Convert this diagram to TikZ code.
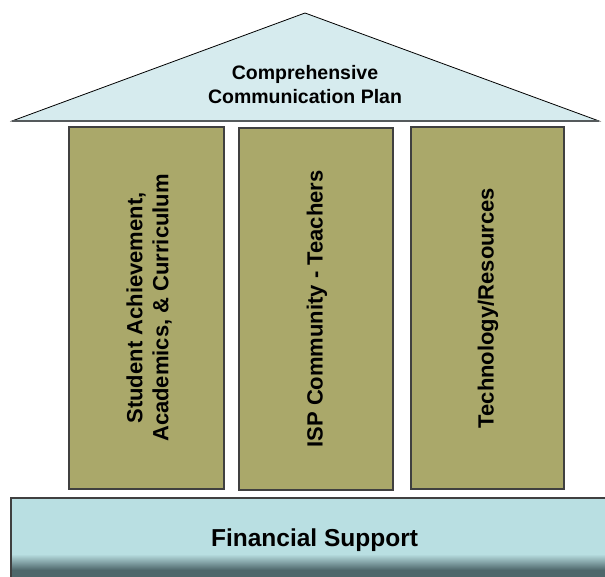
\documentclass[tikz,border=0pt]{standalone}
\usepackage{fontspec}
\setmainfont{Liberation Sans}
\definecolor{roofblue}{HTML}{D6EBEE}
\definecolor{baseblue}{HTML}{B9DFE2}
\definecolor{olivefill}{HTML}{AAA86A}
\definecolor{edgegray}{HTML}{404040}
\definecolor{roofline}{HTML}{555A5C}
\definecolor{shadowteal}{HTML}{4E676B}
\tikzset{
  pillarbox/.style={fill=olivefill, draw=edgegray, line width=1.2pt},
  pillartext/.style={rotate=90, align=center, font=\bfseries\fontsize{22}{26}\selectfont, inner sep=0pt},
  rooftext/.style={align=center, font=\bfseries\fontsize{19.5}{24}\selectfont, inner sep=0pt},
  basetext/.style={font=\bfseries\fontsize{24.5}{28}\selectfont, inner sep=0pt}
}
\begin{document}
\begin{tikzpicture}[x=1pt,y=-1pt]
\useasboundingbox (0,0) rectangle (605,577);
\clip (0,0) rectangle (605,577);
% base
\fill[baseblue] (11,498) rectangle (612,582);
\shade[top color=baseblue, bottom color=shadowteal] (11,554) rectangle (612,570);
\fill[shadowteal] (11,570) rectangle (612,582);
\draw[edgegray, line width=1.2pt] (11,582) -- (11,498) -- (612,498);
\node[basetext] (base) at (314.5,540.5) {Financial Support};
% roof
\filldraw[fill=roofblue, draw=black, line width=0.8pt] (12,121) -- (305,13) -- (599,121) -- cycle;
\draw[roofline, line width=2pt] (12,121) -- (599,121);
\node[rooftext] (roof) at (305,85) {Comprehensive\\Communication Plan};
% pillars
\draw[pillarbox] (69,127) rectangle (224,489);
\draw[pillarbox] (239,128) rectangle (393,490);
\draw[pillarbox] (411,127) rectangle (564,489);
\node[pillartext] (p1) at (149,308) {Student Achievement,\\Academics, \& Curriculum};
\node[pillartext] (p2) at (317,309) {ISP Community - Teachers};
\node[pillartext] (p3) at (488,308) {Technology/Resources};
\end{tikzpicture}
\end{document}
